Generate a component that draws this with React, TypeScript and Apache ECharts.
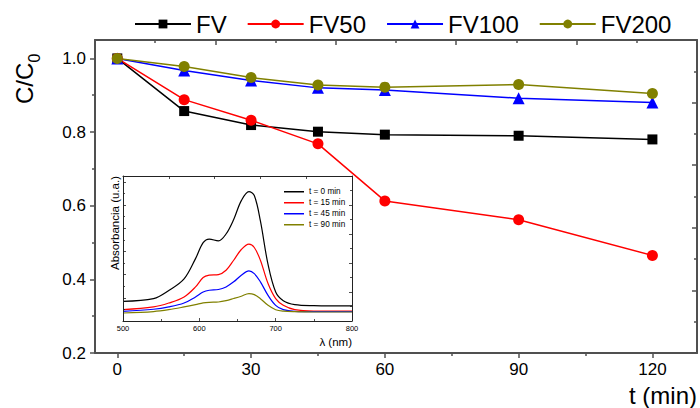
import React, { useEffect, useRef } from "react";
import * as echarts from "echarts";

const FONT = "Liberation Sans, Arial, Helvetica, sans-serif";

// Main chart data
const times = [0, 15, 30, 45, 60, 90, 120];
const fv = [1.0, 0.857, 0.819, 0.801, 0.793, 0.79, 0.78];
const fv50 = [1.0, 0.888, 0.832, 0.768, 0.613, 0.562, 0.465];
const fv100 = [1.0, 0.967, 0.94, 0.92, 0.914, 0.892, 0.88];
const fv200 = [1.0, 0.978, 0.948, 0.928, 0.922, 0.929, 0.905];

const xMajorTicks = [0, 30, 60, 90, 120];
const xMinorTicks = [15, 45, 75, 105];
const yMajorTicks = [0.2, 0.4, 0.6, 0.8, 1.0];
const yMinorTicks = [0.3, 0.5, 0.7, 0.9];

// Inset spectra data (arbitrary absorbance units)
const wavelengths = [500, 540, 560, 580, 595, 605, 613, 625, 635, 645, 655, 665, 672, 680, 690, 700, 710, 725, 750, 800];
const abs0 = [0.136, 0.154, 0.21, 0.29, 0.43, 0.54, 0.565, 0.553, 0.6, 0.7, 0.83, 0.892, 0.865, 0.69, 0.39, 0.2, 0.14, 0.113, 0.106, 0.104];
const abs15 = [0.078, 0.097, 0.124, 0.166, 0.235, 0.3, 0.316, 0.32, 0.35, 0.419, 0.493, 0.53, 0.507, 0.419, 0.258, 0.154, 0.108, 0.078, 0.069, 0.069];
const abs45 = [0.067, 0.081, 0.097, 0.124, 0.166, 0.2, 0.212, 0.217, 0.235, 0.27, 0.316, 0.346, 0.327, 0.27, 0.177, 0.108, 0.078, 0.067, 0.065, 0.065];
const abs90 = [0.055, 0.065, 0.078, 0.097, 0.113, 0.125, 0.129, 0.131, 0.14, 0.155, 0.171, 0.189, 0.182, 0.154, 0.108, 0.078, 0.068, 0.064, 0.062, 0.062];

const mainNames = ["FV", "FV50", "FV100", "FV200"];
const insetNames = ["t = 0 min", "t = 15 min", "t = 45 min", "t = 90 min"];

const AX = "#505050";
const IN = "#222";

export default function App() {
  const ref = useRef<HTMLDivElement>(null);
  useEffect(() => {
    if (!ref.current) return;
    const chart = echarts.init(ref.current, undefined, { renderer: "svg" });
    const pair = (xs: number[], ys: number[]) => xs.map((x, i) => [x, ys[i]]);

    const mainSeries = (name: string, ys: number[], color: string, symbol: string, size: number) => ({
      name,
      type: "line",
      xAxisIndex: 0,
      yAxisIndex: 0,
      data: pair(times, ys),
      symbol,
      symbolSize: size,
      lineStyle: { color, width: 1.5 },
      itemStyle: { color },
      z: 3,
    });
    const insetSeries = (name: string, ys: number[], color: string) => ({
      name,
      type: "line",
      xAxisIndex: 3,
      yAxisIndex: 3,
      data: pair(wavelengths, ys),
      showSymbol: false,
      symbol: "none",
      smooth: 0.35,
      lineStyle: { color, width: 1.2 },
      itemStyle: { color },
      z: 8,
    });

    const hiddenLine = { show: false, onZero: false };

    chart.setOption({
      animation: false,
      backgroundColor: "#fff",
      textStyle: { fontFamily: FONT },
      legend: [
        {
          data: mainNames,
          left: 129,
          top: 7,
          itemWidth: 56,
          itemHeight: 11,
          itemGap: 20,
          textStyle: { fontSize: 24, color: "#000", fontFamily: FONT },
        },
        {
          data: insetNames,
          left: 279,
          top: 182,
          orient: "vertical",
          icon: "rect",
          itemWidth: 20,
          itemHeight: 1.5,
          itemGap: 1.5,
          textStyle: { fontSize: 8.2, lineHeight: 9.5, color: "#000", fontFamily: FONT },
          z: 10,
        },
      ],
      grid: [
        { left: 95, right: 3, top: 40, bottom: 55, containLabel: false },
        {
          left: 123,
          right: 348,
          top: 176,
          bottom: 87,
          show: true,
          backgroundColor: "#fff",
          borderWidth: 0,
          z: 5,
        },
      ],
      xAxis: [
        {
          type: "value",
          gridIndex: 0,
          position: "bottom",
          min: -5,
          max: 130,
          axisLine: { show: true, onZero: false, lineStyle: { color: AX, width: 2 } },
          axisTick: { show: true, customValues: xMajorTicks, length: 5, lineStyle: { color: AX, width: 1.5 } },
          axisLabel: { customValues: xMajorTicks, fontSize: 17, color: "#000", margin: 8, fontFamily: FONT },
          splitLine: { show: false },
        },
        {
          type: "value",
          gridIndex: 0,
          position: "bottom",
          min: -5,
          max: 130,
          axisLine: hiddenLine,
          axisTick: { show: true, customValues: xMinorTicks, length: 3, lineStyle: { color: AX, width: 1.5 } },
          axisLabel: { show: false },
          splitLine: { show: false },
        },
        {
          type: "value",
          gridIndex: 0,
          position: "top",
          min: 0,
          max: 5,
          interval: 1,
          axisLine: { show: true, onZero: false, lineStyle: { color: AX, width: 2 } },
          axisTick: { show: true, inside: true, length: 5, lineStyle: { color: AX, width: 1.5 } },
          minorTick: { show: true, splitNumber: 2, length: 3, lineStyle: { color: AX, width: 1.5 } },
          axisLabel: { show: false },
          splitLine: { show: false },
        },
        {
          type: "value",
          gridIndex: 1,
          position: "bottom",
          min: 500,
          max: 800,
          interval: 100,
          z: 9,
          axisLine: { show: true, onZero: false, lineStyle: { color: IN, width: 1 } },
          axisTick: { show: true, inside: true, length: 3, lineStyle: { color: IN, width: 0.8 } },
          minorTick: { show: true, splitNumber: 2, length: 2, lineStyle: { color: IN, width: 0.8 } },
          axisLabel: { fontSize: 7.5, color: "#000", margin: 3, fontFamily: FONT },
          splitLine: { show: false },
        },
        {
          type: "value",
          gridIndex: 1,
          position: "top",
          min: 0,
          max: 5,
          interval: 1,
          z: 9,
          axisLine: { show: true, onZero: false, lineStyle: { color: IN, width: 1 } },
          axisTick: { show: true, inside: true, length: 3, lineStyle: { color: IN, width: 0.8 } },
          axisLabel: { show: false },
          splitLine: { show: false },
        },
      ],
      yAxis: [
        {
          type: "value",
          gridIndex: 0,
          position: "left",
          min: 0.2,
          max: 1.05,
          axisLine: { show: true, onZero: false, lineStyle: { color: AX, width: 2 } },
          axisTick: { show: true, customValues: yMajorTicks, length: 5, lineStyle: { color: AX, width: 1.5 } },
          axisLabel: {
            customValues: yMajorTicks,
            fontSize: 17,
            color: "#000",
            margin: 9,
            fontFamily: FONT,
            formatter: (v: number) => v.toFixed(1),
          },
          splitLine: { show: false },
        },
        {
          type: "value",
          gridIndex: 0,
          position: "left",
          min: 0.2,
          max: 1.05,
          axisLine: hiddenLine,
          axisTick: { show: true, customValues: yMinorTicks, length: 3, lineStyle: { color: AX, width: 1.5 } },
          axisLabel: { show: false },
          splitLine: { show: false },
        },
        {
          type: "value",
          gridIndex: 0,
          position: "right",
          min: 0,
          max: 5,
          interval: 1,
          axisLine: { show: true, onZero: false, lineStyle: { color: AX, width: 2 } },
          axisTick: { show: true, inside: true, length: 5, lineStyle: { color: AX, width: 1.5 } },
          minorTick: { show: true, splitNumber: 2, length: 3, lineStyle: { color: AX, width: 1.5 } },
          axisLabel: { show: false },
          splitLine: { show: false },
        },
        {
          type: "value",
          gridIndex: 1,
          position: "left",
          min: 0,
          max: 1,
          interval: 0.16,
          z: 9,
          axisLine: { show: true, onZero: false, lineStyle: { color: IN, width: 1 } },
          axisTick: { show: true, inside: true, length: 3, lineStyle: { color: IN, width: 0.8 } },
          minorTick: { show: true, splitNumber: 2, length: 2, lineStyle: { color: IN, width: 0.8 } },
          axisLabel: { show: false },
          splitLine: { show: false },
        },
        {
          type: "value",
          gridIndex: 1,
          position: "right",
          min: 0,
          max: 5,
          interval: 1,
          z: 9,
          axisLine: { show: true, onZero: false, lineStyle: { color: IN, width: 1 } },
          axisTick: { show: true, inside: true, length: 3, lineStyle: { color: IN, width: 0.8 } },
          minorTick: { show: true, splitNumber: 2, length: 2, lineStyle: { color: IN, width: 0.8 } },
          axisLabel: { show: false },
          splitLine: { show: false },
        },
      ],
      series: [
        mainSeries(mainNames[0], fv, "#000000", "rect", 10),
        mainSeries(mainNames[1], fv50, "#ff0000", "circle", 11),
        mainSeries(mainNames[2], fv100, "#0000ff", "triangle", 12),
        mainSeries(mainNames[3], fv200, "#808000", "circle", 11),
        insetSeries(insetNames[0], abs0, "#000000"),
        insetSeries(insetNames[1], abs15, "#ff0000"),
        insetSeries(insetNames[2], abs45, "#0000ff"),
        insetSeries(insetNames[3], abs90, "#808000"),
      ],
      graphic: [
        {
          type: "text",
          x: 24,
          y: 104,
          rotation: Math.PI / 2,
          style: { text: "C/C", fontSize: 24, fontFamily: FONT, fill: "#000", align: "left", verticalAlign: "middle" },
        },
        {
          type: "text",
          x: 34,
          y: 62.5,
          rotation: Math.PI / 2,
          style: { text: "0", fontSize: 16, fontFamily: FONT, fill: "#000", align: "left", verticalAlign: "middle" },
        },
        {
          type: "text",
          x: 697,
          y: 395,
          style: { text: "t (min)", fontSize: 24, fontFamily: FONT, fill: "#000", align: "right", verticalAlign: "middle" },
        },
        {
          type: "text",
          x: 115,
          y: 223,
          rotation: Math.PI / 2,
          z: 20,
          style: { text: "Absorbancia (u.a.)", fontSize: 11.5, fontFamily: FONT, fill: "#000", align: "center", verticalAlign: "middle" },
        },
        {
          type: "text",
          x: 352,
          y: 342,
          z: 20,
          style: { text: "λ (nm)", fontSize: 11.5, fontFamily: FONT, fill: "#000", align: "right", verticalAlign: "middle" },
        },
      ],
    });
    return () => chart.dispose();
  }, []);
  return <div ref={ref} style={{ position: "fixed", left: 0, top: 0, width: 700, height: 408 }} />;
}
